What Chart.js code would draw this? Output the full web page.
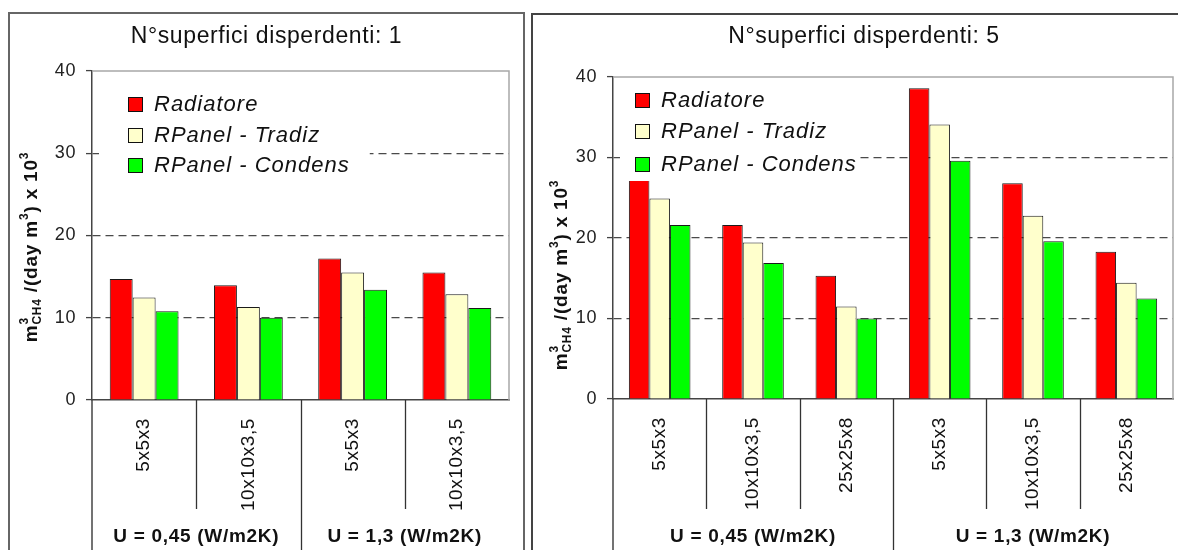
<!DOCTYPE html>
<html><head><meta charset="utf-8">
<script src="https://cdn.jsdelivr.net/npm/chart.js@4.4.0/dist/chart.umd.min.js"></script>
<style>
html,body{margin:0;padding:0;background:#fff;width:1178px;height:550px;overflow:hidden;position:relative;}
.frame{position:absolute;box-sizing:border-box;}
#frameL{left:8px;top:12px;width:517px;height:560px;border:2px solid #666;}
#frameR{left:531px;top:13px;width:660px;height:560px;border:2px solid #444;}
#wrapL{position:absolute;left:0;top:0;width:528px;height:550px;}
#wrapR{position:absolute;left:528px;top:0;width:650px;height:550px;}
canvas{display:block;}
</style></head><body>
<div class="frame" id="frameL"></div><div class="frame" id="frameR"></div>
<div id="wrapL"><canvas id="cL" width="528" height="550"></canvas></div>
<div id="wrapR"><canvas id="cR" width="650" height="550"></canvas></div>
<script>
// ---------- data ----------
const seriesNames = ['Radiatore', 'RPanel - Tradiz', 'RPanel - Condens'];
const seriesColors = ['#FF0000', '#FFFFCC', '#00FF00'];
const yTicks = [0, 10, 20, 30, 40];

const title1 = 'N°superfici disperdenti: 1';
const cats1 = ['5x5x3', '10x10x3,5', '5x5x3', '10x10x3,5'];
const groups1 = ['U = 0,45 (W/m2K)', 'U = 1,3 (W/m2K)'];
const groupSizes1 = [2, 2];
const radiatore1 = [14.7, 13.95, 17.2, 15.5];
const tradiz1 = [12.45, 11.3, 15.5, 12.85];
const condens1 = [10.8, 10.0, 13.4, 11.2];

const title2 = 'N°superfici disperdenti: 5';
const cats2 = ['5x5x3', '10x10x3,5', '25x25x8', '5x5x3', '10x10x3,5', '25x25x8'];
const groups2 = ['U = 0,45 (W/m2K)', 'U = 1,3 (W/m2K)'];
const groupSizes2 = [3, 3];
const radiatore2 = [27.2, 21.6, 15.3, 38.6, 26.8, 18.3];
const tradiz2 = [24.9, 19.45, 11.5, 34.1, 22.75, 14.45];
const condens2 = [21.6, 16.9, 10.0, 29.6, 19.6, 12.5];

// y axis title pieces: text, size, vertical shift, advance?
const yTitlePieces = [
  {t: 'm', s: 19, dy: 0},
  {t: '3', s: 12, dy: -9, noAdvance: true},
  {t: 'CH4', s: 12, dy: 4},
  {t: ' /(day m', s: 19, dy: 0},
  {t: '3', s: 12, dy: -9},
  {t: ') x 10', s: 19, dy: 0},
  {t: '3', s: 12, dy: -9}
];

const FONT = '"Liberation Sans", Arial, Helvetica, sans-serif';

function makeDeco(cfg) {
  return {
    id: 'deco',
    beforeDraw(chart) { chart.ctx.letterSpacing = '0.6px'; },
    afterDraw(chart) {
      const ctx = chart.ctx, ca = chart.chartArea, xs = chart.scales.x;
      const n = cfg.cats.length;
      const mid = (i) => (xs.getPixelForValue(i - 1) + xs.getPixelForValue(i)) / 2;
      ctx.save();
      // plot frame (top / right)
      ctx.strokeStyle = '#a8a8a8'; ctx.lineWidth = 1.5;
      ctx.beginPath(); ctx.moveTo(ca.left, ca.top); ctx.lineTo(ca.right, ca.top); ctx.lineTo(ca.right, ca.bottom); ctx.stroke();
      // y axis extended down
      ctx.strokeStyle = '#444'; ctx.lineWidth = 1.5;
      ctx.beginPath(); ctx.moveTo(ca.left, ca.bottom); ctx.lineTo(ca.left, chart.height); ctx.stroke();
      // category separators
      const groupEnds = []; let acc = 0;
      cfg.groupSizes.forEach(s => { acc += s; groupEnds.push(acc); });
      ctx.lineWidth = 1.3; ctx.strokeStyle = '#333';
      for (let i = 1; i < n; i++) {
        const x = Math.round(mid(i)) + 0.5;
        ctx.beginPath(); ctx.moveTo(x, ca.bottom);
        ctx.lineTo(x, groupEnds.includes(i) ? chart.height : ca.bottom + cfg.sepLen);
        ctx.stroke();
      }
      // group labels
      ctx.fillStyle = '#111'; ctx.font = 'bold 19px ' + FONT; ctx.letterSpacing = '0.7px';
      ctx.textAlign = 'center'; ctx.textBaseline = 'middle';
      let start = 0;
      cfg.groups.forEach((g, k) => {
        const end = start + cfg.groupSizes[k];
        const x0 = start === 0 ? ca.left : mid(start);
        const x1 = end === n ? ca.right : mid(end);
        ctx.fillText(g, (x0 + x1) / 2, cfg.groupY);
        start = end;
      });
      // legend
      ctx.font = 'italic 22px ' + FONT; ctx.letterSpacing = '1px';
      const lx = ca.left + cfg.legX;
      let maxW = 0;
      seriesNames.forEach(s => { maxW = Math.max(maxW, ctx.measureText(s).width); });
      const rows = cfg.legRows.map(r => ca.top + r);
      ctx.fillStyle = '#fff';
      ctx.fillRect(ca.left + 7, rows[0] - 17, lx + 26 + maxW + cfg.legPadR - (ca.left + 7), rows[2] - rows[0] + 34);
      seriesNames.forEach((s, i) => {
        ctx.fillStyle = seriesColors[i];
        ctx.fillRect(lx, rows[i] - 7, 14, 14);
        ctx.strokeStyle = '#111'; ctx.lineWidth = 1;
        ctx.strokeRect(lx + 0.5, rows[i] - 6.5, 14, 14);
        ctx.fillStyle = '#111'; ctx.textAlign = 'left'; ctx.textBaseline = 'middle';
        ctx.fillText(s, lx + 26, rows[i] + 1);
      });
      // title
      ctx.font = '23px ' + FONT; ctx.letterSpacing = '0.6px';
      ctx.fillStyle = '#111'; ctx.textAlign = 'center'; ctx.textBaseline = 'middle';
      ctx.fillText(cfg.title, cfg.titleX, 37);
      // y axis title
      ctx.save();
      ctx.translate(cfg.yTitleX, cfg.yTitleY);
      ctx.rotate(-Math.PI / 2);
      ctx.letterSpacing = '0.8px'; ctx.textAlign = 'left'; ctx.textBaseline = 'alphabetic';
      let total = 0;
      yTitlePieces.forEach(p => { ctx.font = 'bold ' + p.s + 'px ' + FONT; if (!p.noAdvance) total += ctx.measureText(p.t).width; });
      let x = -total / 2;
      yTitlePieces.forEach(p => {
        ctx.font = 'bold ' + p.s + 'px ' + FONT;
        ctx.fillText(p.t, x, p.dy);
        if (!p.noAdvance) x += ctx.measureText(p.t).width;
      });
      ctx.restore();
      ctx.restore();
      ctx.letterSpacing = '0px';
    }
  };
}

function build(canvasId, cats, series, cfg) {
  const datasets = series.map((d, i) => ({
    label: seriesNames[i], data: d, backgroundColor: seriesColors[i],
    borderColor: '#1a1a1a', borderWidth: 1,
    categoryPercentage: 0.66, barPercentage: 1.0
  }));
  return new Chart(document.getElementById(canvasId), {
    type: 'bar',
    data: {labels: cats, datasets},
    options: {
      responsive: false, animation: false, devicePixelRatio: 1,
      layout: {padding: cfg.padding},
      plugins: {legend: {display: false}, title: {display: false}, tooltip: {enabled: false}},
      scales: {
        x: {
          grid: {display: false, drawTicks: false},
          border: {display: true, color: '#444', width: 1.5},
          ticks: {minRotation: 90, maxRotation: 90, autoSkip: false, padding: 18,
                  color: '#111', font: {family: FONT, size: 19}},
          afterFit: s => { s.height = cfg.xHeight; }
        },
        y: {
          min: 0, max: 40,
          afterBuildTicks: s => { s.ticks = yTicks.map(v => ({value: v})); },
          grid: {
            color: c => (c.tick && (c.tick.value === 0 || c.tick.value === 40)) ? 'rgba(0,0,0,0)' : '#4a4a4a',
            lineWidth: 1.2, drawTicks: true, tickLength: 6, tickColor: '#444', tickWidth: 1.3
          },
          border: {display: true, color: '#444', width: 1.5, dash: [8, 5]},
          ticks: {padding: 10, color: '#222', font: {family: FONT, size: 18}},
          afterFit: s => { s.width = cfg.yWidth; }
        }
      }
    },
    plugins: [makeDeco(Object.assign({cats}, cfg))]
  });
}

build('cL', cats1, [radiatore1, tradiz1, condens1], {
  padding: {left: 24, right: 19, top: 71, bottom: 0},
  yWidth: 68, xHeight: 150, sepLen: 109, groupY: 537,
  groups: groups1, groupSizes: groupSizes1,
  legX: 36, legRows: [33, 64, 94], legPadR: 20,
  title: title1, titleX: 266.5, yTitleX: 37, yTitleY: 247
});
build('cR', cats2, [radiatore2, tradiz2, condens2], {
  padding: {left: 27, right: 5, top: 77, bottom: 0},
  yWidth: 58, xHeight: 151, sepLen: 110, groupY: 537,
  groups: groups2, groupSizes: groupSizes2,
  legX: 22, legRows: [23, 54, 87], legPadR: 2,
  title: title2, titleX: 336, yTitleX: 39, yTitleY: 275
});
</script>
</body></html>
